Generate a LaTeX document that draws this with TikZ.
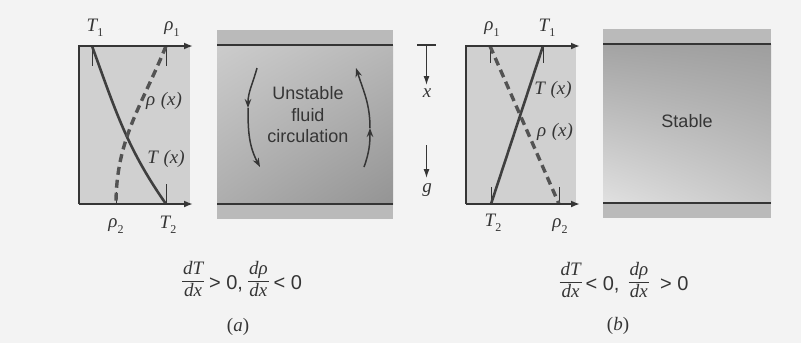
\documentclass[tikz,border=0pt]{standalone}
\usepackage{fontspec}
\setsansfont{Liberation Sans}
\newfontfamily\tnr{Liberation Serif}
\usetikzlibrary{arrows.meta,shadings}
\definecolor{ink}{HTML}{353535}
\definecolor{paper}{HTML}{F3F3F3}
\definecolor{boxfill}{HTML}{D0D0D0}
\definecolor{band}{HTML}{BABABA}
\newcommand{\lsub}[1]{\raisebox{-0.28em}{\fontsize{12}{12}\selectfont\upshape #1}}
\newcommand{\dfr}[2]{\raisebox{4.5pt}{\setlength{\arrayrulewidth}{0.8pt}\begin{tabular}[c]{@{\hspace{1pt}}c@{\hspace{1pt}}}#1\\\hline #2\end{tabular}}}
\begin{document}
\begin{tikzpicture}[x=1pt,y=1pt,
  axisline/.style={draw=ink, line width=2pt},
  axisarrow/.style={axisline, -{Latex[length=9pt,width=7pt]}},
  curve/.style={draw=ink!95, line width=2.6pt},
  dcurve/.style={draw=ink!85, line width=3.4pt, dash pattern=on 8pt off 5pt},
  tickline/.style={draw=ink, line width=0.9pt},
  lab/.style={font=\tnr\itshape\fontsize{19}{22}\selectfont, text=ink, inner sep=0pt},
  flow/.style={draw=ink, line width=1.5pt, -{Stealth[length=9pt,width=6.5pt]}},
  paneltext/.style={font=\sffamily\fontsize{18}{21.5}\selectfont, text=ink, align=center, inner sep=0pt},
  wall/.style={draw=ink, line width=1.6pt},
  gravity/.style={draw=ink, line width=1.2pt, -{Latex[length=9pt,width=6pt]}},
  formula/.style={font=\tnr\fontsize{19}{22}\selectfont, text=ink, inner sep=0pt},
]
\useasboundingbox (0,0) rectangle (801,-343);
\fill[paper] (0,0) rectangle (801,-343);

% ---------- (a) profile graph ----------
\fill[boxfill] (79,-46) rectangle (190,-204);
\coordinate (aO) at (79,-204);
\coordinate (aTop) at (79,-46);
\coordinate (aTopEnd) at (193,-46);
\coordinate (aBotEnd) at (193,-204);
\coordinate (aT1) at (92,-46);
\coordinate (ar1) at (166,-46);
\coordinate (ar2) at (116,-204);
\coordinate (aT2) at (166,-204);
\draw[tickline] (aT1) -- ++(0,-20);
\draw[tickline] (ar1) -- ++(0,-20);
\draw[tickline] (aT2) -- ++(0,20);
\draw[tickline] (ar2) -- ++(0,12);
\draw[curve] (aT1) to[out=-70,in=125] (aT2);
\draw[dcurve] (ar1) to[out=-112,in=90] (ar2);
\draw[axisarrow] (aO) -- (aTop) -- (aTopEnd);
\draw[axisarrow] (aO) -- (aBotEnd);
\node[lab] (aT1l) at (95,-28) {T\lsub{1}};
\node[lab] (ar1l) at (172,-29) {ρ\lsub{1}};
\node[lab] (ar2l) at (116,-226) {ρ\lsub{2}};
\node[lab] (aT2l) at (168,-225) {T\lsub{2}};
\node[lab] (arxl) at (164,-101) {ρ\hspace{0.3em}(x)};
\node[lab] (aTxl) at (166,-159) {T\hspace{0.3em}(x)};

% ---------- (a) fluid panel ----------
\fill[band] (217,-30) rectangle (393,-219);
\shade[upper left=white!80!black, upper right=white!72!black,
       lower left=white!68!black, lower right=white!58!black]
  (217,-45) rectangle (393,-204);
\draw[wall] (217,-45) -- (393,-45);
\draw[wall] (217,-204) -- (393,-204);
\node[paneltext] (atxt) at (308,-115) {Unstable\\fluid\\circulation};
\coordinate (fl1) at (257,-68);
\coordinate (fl2) at (248,-108);
\coordinate (fl3) at (260,-167);
\coordinate (fr1) at (364,-167);
\coordinate (fr2) at (370,-128);
\coordinate (fr3) at (356,-68);
\draw[flow] (fl1) to[out=-105,in=90] (fl2);
\draw[flow] (fl2) to[out=-90,in=118] (fl3);
\draw[flow] (fr1) to[out=70,in=-90] (fr2);
\draw[flow] (fr2) to[out=90,in=-72] (fr3);

% ---------- axis indicator ----------
\coordinate (xb) at (426.5,-45);
\draw[ink, line width=1.2pt] (417,-45) -- (436,-45);
\draw[gravity] (xb) -- (426.5,-85);
\node[lab] (xl) at (427,-93) {x};
\draw[gravity] (426.5,-145) -- (426.5,-178);
\node[lab] (gl) at (427,-190) {g};

% ---------- (b) profile graph ----------
\fill[boxfill] (466,-46) rectangle (576,-204);
\coordinate (bO) at (466,-204);
\coordinate (bTop) at (466,-46);
\coordinate (bTopEnd) at (580,-46);
\coordinate (bBotEnd) at (580,-204);
\coordinate (br1) at (490,-46);
\coordinate (bT1) at (543,-46);
\coordinate (bT2) at (491,-204);
\coordinate (br2) at (559,-204);
\draw[tickline] (br1) -- ++(0,-17);
\draw[tickline] (bT1) -- ++(0,-17);
\draw[tickline] (bT2) -- ++(0,17);
\draw[tickline] (br2) -- ++(0,17);
\draw[curve] (bT1) -- (bT2);
\draw[dcurve] (br1) -- (br2);
\draw[axisarrow] (bO) -- (bTop) -- (bTopEnd);
\draw[axisarrow] (bO) -- (bBotEnd);
\node[lab] (br1l) at (492,-29) {ρ\lsub{1}};
\node[lab] (bT1l) at (547,-28) {T\lsub{1}};
\node[lab] (bT2l) at (493,-223) {T\lsub{2}};
\node[lab] (br2l) at (560,-226) {ρ\lsub{2}};
\node[lab] (bTxl) at (553,-90) {T\hspace{0.3em}(x)};
\node[lab] (brxl) at (555,-132) {ρ\hspace{0.3em}(x)};

% ---------- (b) fluid panel ----------
\fill[band] (603,-29) rectangle (771,-218);
\shade[upper left=white!64!black, upper right=white!62!black,
       lower left=white!88!black, lower right=white!78!black]
  (603,-44) rectangle (771,-203);
\draw[wall] (603,-44) -- (771,-44);
\draw[wall] (603,-203) -- (771,-203);
\node[paneltext] (btxt) at (687,-121) {Stable};

% ---------- formulas ----------
\node[formula] (aform) at (242,-281) {\dfr{\itshape dT}{\itshape dx}\hspace{5pt}{\sffamily\fontsize{20}{22}\selectfont > 0,}\hspace{5pt}\dfr{\itshape dρ}{\itshape dx}\hspace{5pt}{\sffamily\fontsize{20}{22}\selectfont < 0}};
\node[formula] (bform) at (624,-282) {\dfr{\itshape dT}{\itshape dx}\hspace{4pt}{\sffamily\fontsize{20}{22}\selectfont < 0,}\hspace{9pt}\dfr{\itshape dρ}{\itshape dx}\hspace{11pt}{\sffamily\fontsize{20}{22}\selectfont > 0}};
\node[formula] (acap) at (238,-327) {(\textit{a})};
\node[formula] (bcap) at (618,-326) {(\textit{b})};
\end{tikzpicture}
\end{document}
